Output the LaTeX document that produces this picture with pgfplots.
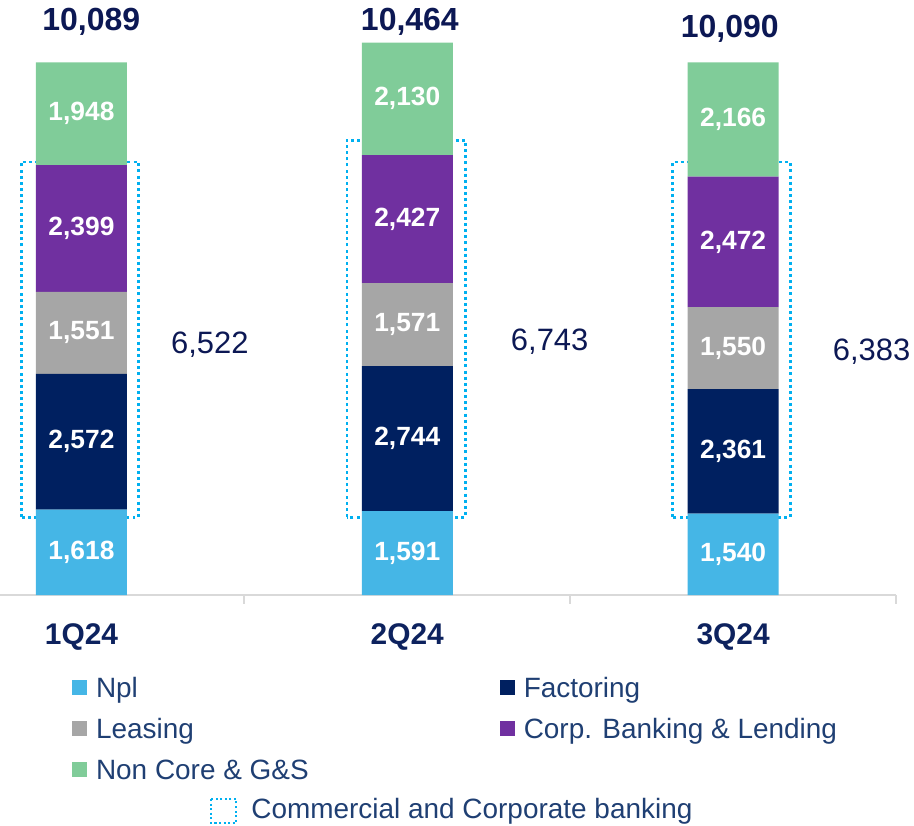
\documentclass[border=0pt]{standalone}
\usepackage{fontspec}
\setmainfont{Liberation Sans}
\usepackage{pgfplots}
\pgfplotsset{compat=1.18}

\definecolor{cnpl}{RGB}{69,182,230}
\definecolor{cfact}{RGB}{0,32,96}
\definecolor{cleas}{RGB}{166,166,166}
\definecolor{ccorp}{RGB}{112,48,160}
\definecolor{cnonc}{RGB}{128,204,153}
\definecolor{cbox}{RGB}{0,176,240}
\definecolor{axisgray}{RGB}{217,217,217}
\definecolor{navy}{RGB}{12,24,84}
\definecolor{catnavy}{RGB}{13,34,94}
\definecolor{legtext}{RGB}{31,63,115}

\begin{document}
\begin{tikzpicture}
\path[use as bounding box] (0,-4.6) rectangle (18.28,11.9);
\begin{axis}[
    at={(0,0)}, anchor=south west,
    scale only axis, width=17.92cm, height=11.9cm,
    xmin=-0.25, xmax=2.5, ymin=0, ymax=11269,
    enlargelimits=false, clip=false,
    ybar stacked, bar width=1.82cm,
    axis y line=none, axis x line*=bottom,
    x axis line style={-, draw=axisgray, line width=1.2pt},
    xtick={0,1,2}, xticklabels={1Q24,2Q24,3Q24},
    major tick length=0pt,
    xticklabel style={anchor=center, yshift=-0.84cm, text=catnavy,
        font=\fontsize{17}{20}\selectfont\bfseries},
    visualization depends on={rawy \as \rawy},
    nodes near coords={\pgfmathprintnumber[1000 sep={,}, assume math mode=true]{\rawy}},
    every node near coord/.append style={anchor=center, text=white,
        font=\fontsize{15}{18}\selectfont\bfseries},
    legend columns=2,
    legend cell align=left,
    legend style={at={(axis description cs:0.0804,-0.1328)}, anchor=north west,
        draw=none, fill=none, inner sep=0pt, outer sep=0pt, row sep=0.3cm,
        nodes={inner sep=0pt, text height=0.46cm, text depth=0.06cm, text=legtext,
            font=\fontsize{15.9}{19}\selectfont},
        /tikz/every odd column/.append style={column sep=0.18cm},
        /tikz/every even column/.append style={column sep=3.82cm}},
    legend image code/.code={\fill[#1] (0cm,-0.15cm) rectangle (0.3cm,0.15cm);},
]

\addplot[fill=cnpl, draw=none] coordinates {(0,1618) (1,1591) (2,1540)};
\addlegendentry{Npl}
\addplot[fill=cfact, draw=none] coordinates {(0,2572) (1,2744) (2,2361)};
\addlegendentry{Factoring}
\addplot[fill=cleas, draw=none] coordinates {(0,1551) (1,1571) (2,1550)};
\addlegendentry{Leasing}
\addplot[fill=ccorp, draw=none] coordinates {(0,2399) (1,2427) (2,2472)};
\addlegendentry{Corp. Banking \& Lending}
\addplot[fill=cnonc, draw=none] coordinates {(0,1948) (1,2130) (2,2166)};
\addlegendentry{Non Core \& G\&S}

% totals
\node[font=\fontsize{18.2}{21}\selectfont\bfseries, text=navy] at (axis cs:0.03,10850) {10,089};
\node[font=\fontsize{18.2}{21}\selectfont\bfseries, text=navy] at (axis cs:1.008,10850) {10,464};
\node[font=\fontsize{18.2}{21}\selectfont\bfseries, text=navy] at (axis cs:1.99,10720) {10,090};

% commercial and corporate banking boxes
\draw[cbox, line width=1.7pt, dash pattern=on 1.7pt off 1.8pt] (axis cs:-0.185,1477) rectangle (axis cs:0.175,8201);
\draw[cbox, line width=1.7pt, dash pattern=on 1.7pt off 1.8pt] (axis cs:0.815,1477) rectangle (axis cs:1.178,8617);
\draw[cbox, line width=1.7pt, dash pattern=on 1.7pt off 1.8pt] (axis cs:1.815,1477) rectangle (axis cs:2.175,8201);
\node[font=\fontsize{17.6}{20}\selectfont, text=navy] at (axis cs:0.394,4735) {6,522};
\node[font=\fontsize{17.6}{20}\selectfont, text=navy] at (axis cs:1.437,4792) {6,743};
\node[font=\fontsize{17.6}{20}\selectfont, text=navy] at (axis cs:2.425,4602) {6,383};

% category separators
\draw[axisgray, line width=1.2pt] (axis cs:0.5,0) -- ([yshift=-0.18cm]axis cs:0.5,0);
\draw[axisgray, line width=1.2pt] (axis cs:1.5,0) -- ([yshift=-0.18cm]axis cs:1.5,0);
\draw[axisgray, line width=1.2pt] (axis cs:2.5,0) -- ([yshift=-0.18cm]axis cs:2.5,0);
\end{axis}

\draw[cbox, line width=1.2pt, dash pattern=on 1.2pt off 1.4pt] (4.22,-4.08) rectangle (4.72,-4.56);
\node[anchor=base west, inner sep=0pt, text=legtext, font=\fontsize{15.9}{19}\selectfont]
    at (5.02,-4.46) {Commercial and Corporate banking};
\end{tikzpicture}
\end{document}
